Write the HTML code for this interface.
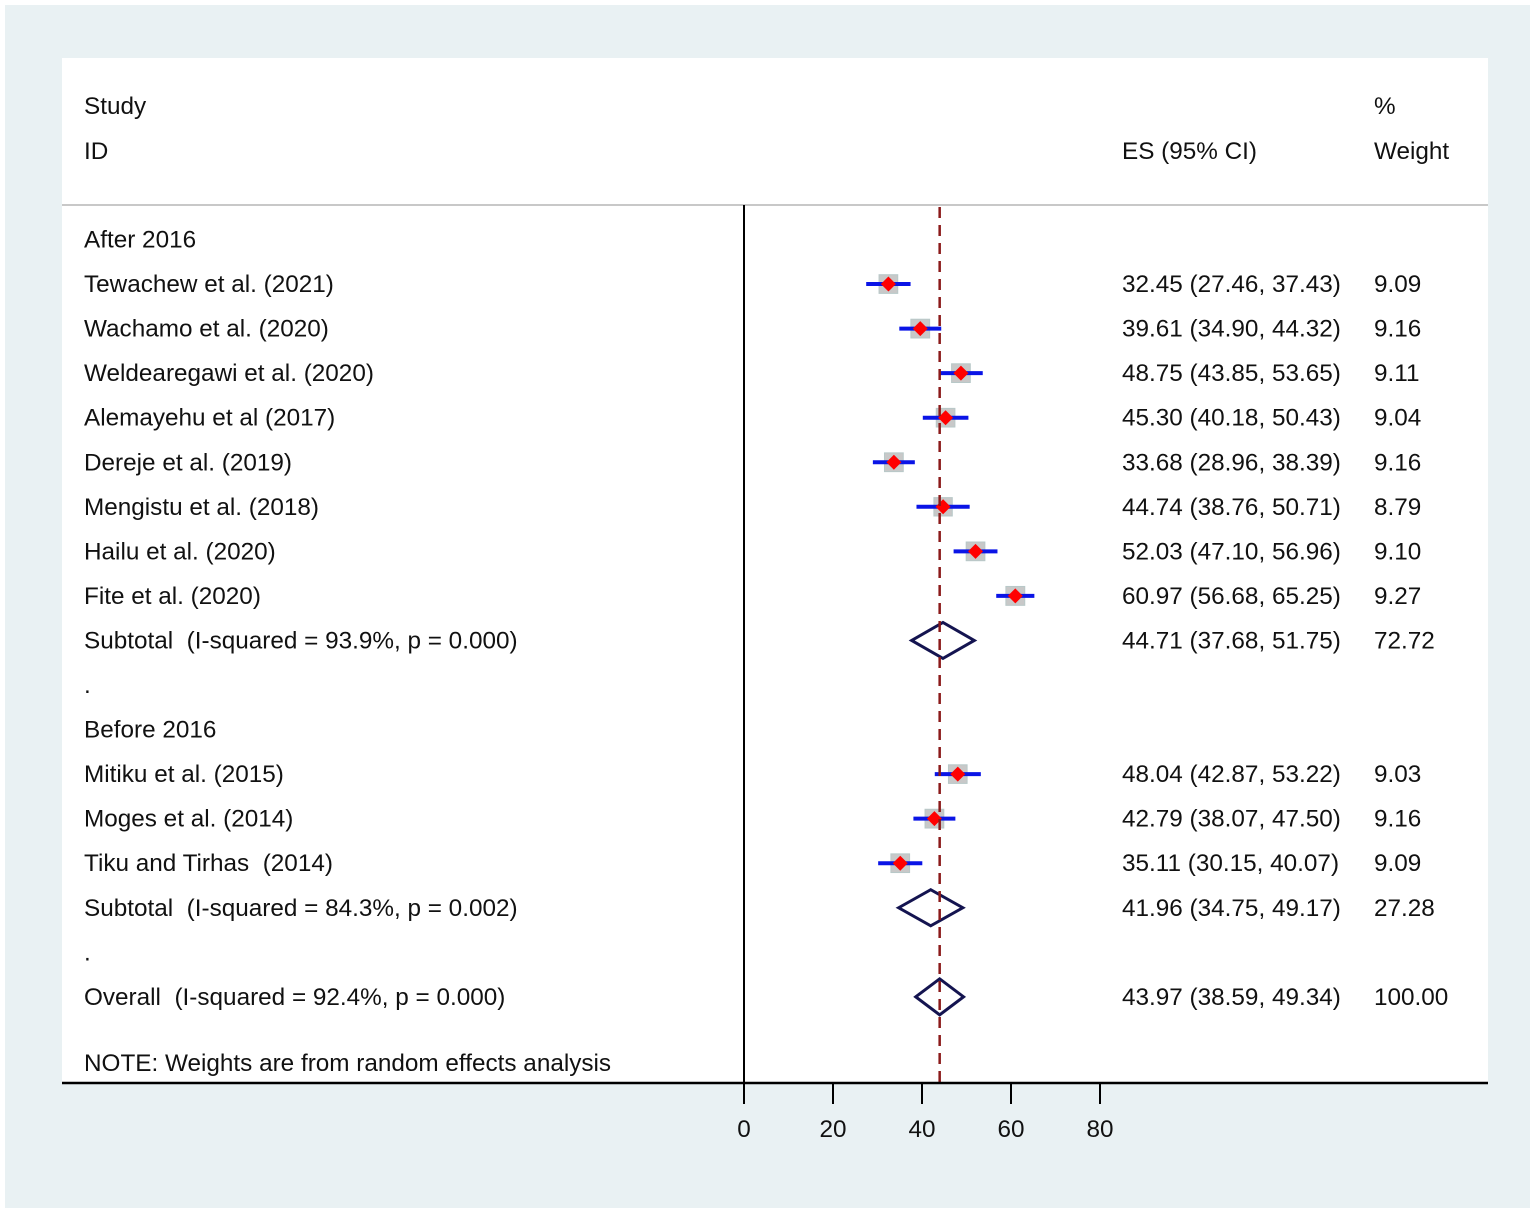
<!DOCTYPE html>
<html><head><meta charset="utf-8"><style>
html,body{margin:0;padding:0;background:#fff}
svg text{font-family:"Liberation Sans",sans-serif;font-size:24.3px;fill:#111;white-space:pre}
</style></head><body>
<svg width="1535" height="1214">
<rect x="5" y="5" width="1525" height="1203" fill="#e9f1f3"/>
<rect x="62" y="58" width="1426" height="1025" fill="#fff"/>
<line x1="62" y1="205" x2="1488" y2="205" stroke="#c8c8c8" stroke-width="2"/>
<text x="84" y="114">Study</text>
<text x="84" y="159">ID</text>
<text x="1122" y="159">ES (95% CI)</text>
<text x="1374" y="114">%</text>
<text x="1374" y="159">Weight</text>
<line x1="744" y1="205" x2="744" y2="1083" stroke="#000" stroke-width="2"/>
<g id="marks"></g>
<line x1="62" y1="1083" x2="1488" y2="1083" stroke="#000" stroke-width="2.5"/>
<g id="axis"></g>
</svg>
<script>
const labels=["After 2016","Tewachew et al. (2021)","Wachamo et al. (2020)","Weldearegawi et al. (2020)","Alemayehu et al (2017)","Dereje et al. (2019)","Mengistu et al. (2018)","Hailu et al. (2020)","Fite et al. (2020)","Subtotal  (I-squared = 93.9%, p = 0.000)",".","Before 2016","Mitiku et al. (2015)","Moges et al. (2014)","Tiku and Tirhas  (2014)","Subtotal  (I-squared = 84.3%, p = 0.002)",".","Overall  (I-squared = 92.4%, p = 0.000)"];
const kinds=["h","s","s","s","s","s","s","s","s","d","h","h","s","s","s","d","h","d"];
const es=[null,32.45,39.61,48.75,45.30,33.68,44.74,52.03,60.97,44.71,null,null,48.04,42.79,35.11,41.96,null,43.97];
const lo=[null,27.46,34.90,43.85,40.18,28.96,38.76,47.10,56.68,37.68,null,null,42.87,38.07,30.15,34.75,null,38.59];
const hi=[null,37.43,44.32,53.65,50.43,38.39,50.71,56.96,65.25,51.75,null,null,53.22,47.50,40.07,49.17,null,49.34];
const weights=[null,9.09,9.16,9.11,9.04,9.16,8.79,9.10,9.27,72.72,null,null,9.03,9.16,9.09,27.28,null,100.00];
const ticks=[0,20,40,60,80];
const overall=43.97;
const X=v=>744+v*4.45;
const Y=i=>239.5+i*44.55;
const NS="http://www.w3.org/2000/svg";
const g=document.getElementById('marks');
function mk(t,a,p){const e=document.createElementNS(NS,t);for(const k in a)e.setAttribute(k,a[k]);(p||g).appendChild(e);return e;}
labels.forEach((l,i)=>{
  const y=Y(i);
  const t=mk('text',{x:84,y:y+8});t.textContent=l;
  
  
  if(es[i]==null)return;
  const e=mk('text',{x:1122,y:y+8});e.textContent=es[i].toFixed(2)+" ("+lo[i].toFixed(2)+", "+hi[i].toFixed(2)+")";
  
  
  const w=mk('text',{x:1374,y:y+8});w.textContent=weights[i].toFixed(2);
  
  
  if(kinds[i]=="s"){
    const s=Math.sqrt(weights[i])*6.2;
    const sq=mk('rect',{x:X(es[i])-s/2,y:y-s/2,width:s,height:s,fill:"#c8c8c8",stroke:"#b8c8c8"});
    
    
    const ci=mk('line',{x1:X(lo[i]),x2:X(hi[i]),y1:y,y2:y,stroke:"#0a14e6","stroke-width":4});
    
    
    const c=X(es[i]),r=7.5;
    const d=mk('polygon',{points:`${c-r},${y} ${c},${y-r} ${c+r},${y} ${c},${y+r}`,fill:"#f00"});
    
    
  } else {
    const c=X(es[i]);
    const d=mk('polygon',{points:`${X(lo[i])},${y} ${c},${y-18} ${X(hi[i])},${y} ${c},${y+18}`,fill:"none",stroke:"#141450","stroke-width":3});
    
    
  }
});
const note=mk('text',{x:84,y:1071});note.textContent="NOTE: Weights are from random effects analysis";


const ol=mk('line',{x1:X(overall),x2:X(overall),y1:207,y2:1082,stroke:"#8b1a1a","stroke-width":2.5,"stroke-dasharray":"11,7"});


const ax=document.getElementById('axis');
ticks.forEach(t=>{
  const l=mk('line',{x1:X(t),x2:X(t),y1:1083,y2:1104,stroke:"#000","stroke-width":2},ax);
  
  
  const tx=mk('text',{x:X(t),y:1137,"text-anchor":"middle"},ax);tx.textContent=t;
  
  
});
</script>
</body></html>
